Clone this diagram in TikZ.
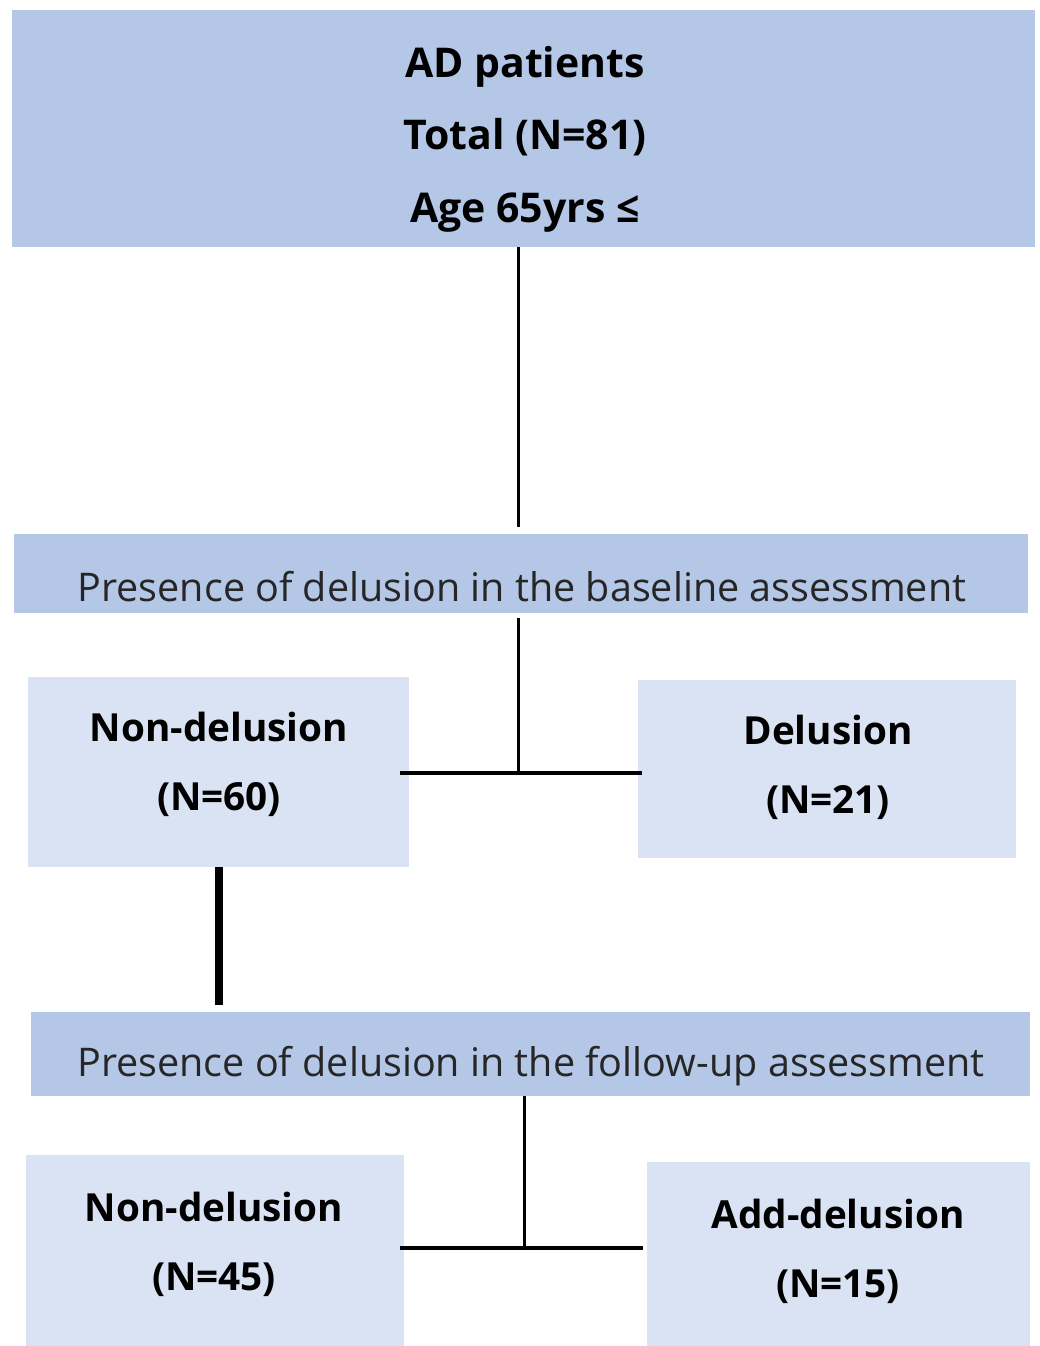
\documentclass[tikz,border=0pt]{standalone}
\usepackage{fontspec}
\setmainfont{Open Sans}
\definecolor{bardark}{HTML}{B4C7E7}
\definecolor{boxlight}{HTML}{DAE3F3}
\begin{document}
\begin{tikzpicture}[x=1pt, y=-1pt,
    bar/.style={rectangle, fill=bardark, inner sep=0pt, anchor=north west},
    grp/.style={rectangle, fill=boxlight, inner sep=0pt, anchor=north west},
    head/.style={font=\fontsize{41}{72.5}\selectfont\bfseries, align=center, inner sep=0pt},
    bartxt/.style={font=\fontsize{39.5}{46}\selectfont, text=black!85, inner sep=0pt},
    grptxt/.style={font=\fontsize{38.7}{69}\selectfont\bfseries, align=center, inner sep=0pt},
    link/.style={line width=3pt},
    fork/.style={line width=4.5pt}
]
\useasboundingbox (0,0) rectangle (1040,1346);
% boxes
\node[bar, minimum width=1023pt, minimum height=237pt] (top) at (12,10) {};
\node[bar, minimum width=1014pt, minimum height=79pt] (base) at (14,534) {};
\node[grp, minimum width=381pt, minimum height=190pt] (nd1) at (28,677) {};
\node[grp, minimum width=378pt, minimum height=178pt] (d1) at (638,680) {};
\node[bar, minimum width=999pt, minimum height=84pt] (follow) at (31,1012) {};
\node[grp, minimum width=378pt, minimum height=191pt] (nd2) at (26,1155) {};
\node[grp, minimum width=383pt, minimum height=184pt] (ad2) at (647,1162) {};
% texts
\node[head] (toptxt) at (525,139) {AD patients\\Total (N=81)\\Age 65yrs \char"2264};
\node[bartxt] (basetxt) at (522,587) {Presence of delusion in the baseline assessment};
\node[bartxt] (followtxt) at (531,1066) {Presence of delusion in the follow-up assessment};
\node[grptxt] (nd1txt) at (219,764) {Non-delusion\\(N=60)};
\node[grptxt] (d1txt) at (828,767) {Delusion\\(N=21)};
\node[grptxt] (nd2txt) at (214,1244) {Non-delusion\\(N=45)};
\node[grptxt] (ad2txt) at (838,1251) {Add-delusion\\(N=15)};
% connectors
\coordinate (j1) at (518,773);
\coordinate (j2) at (524,1248);
\draw[link] (top.south -| j1) -- ([yshift=7pt]base.north -| j1);
\draw[link] ([yshift=-5pt]base.south -| j1) -- (j1);
\draw[fork] ([xshift=-9pt]nd1.east |- j1) -- ([xshift=4pt]d1.west |- j1);
\draw[line width=8pt] (nd1.south) -- ([yshift=7pt]follow.north -| nd1.south);
\draw[link] (follow.south -| j2) -- (j2);
\draw[fork] ([xshift=-4pt]nd2.east |- j2) -- ([xshift=-4pt]ad2.west |- j2);
\end{tikzpicture}
\end{document}
